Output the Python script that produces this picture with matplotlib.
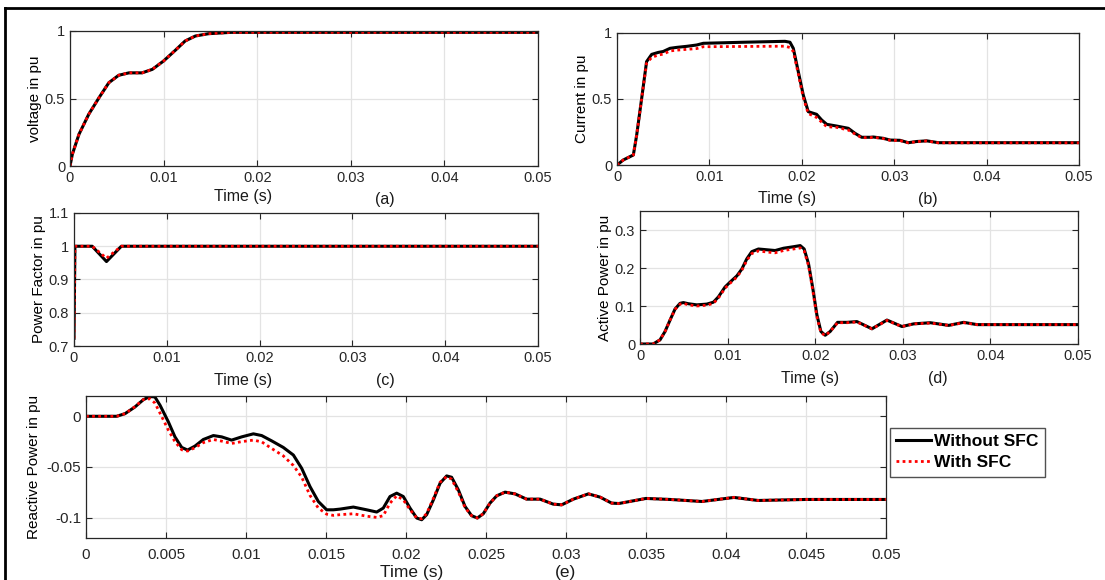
import matplotlib
matplotlib.use("Agg")
import matplotlib.pyplot as plt

plt.rcParams["font.family"] = ["Liberation Sans", "DejaVu Sans"]

# ---- data (time in s, values in pu) ----
t_volt = [0, 0.00025, 0.00096, 0.002, 0.0031, 0.00415, 0.0052, 0.0063, 0.0077,
          0.0088, 0.01, 0.01125, 0.0123, 0.0134, 0.0148, 0.0172, 0.05]
volt = [0, 0.087, 0.235, 0.383, 0.506, 0.617, 0.672, 0.69, 0.69,
        0.716, 0.778, 0.857, 0.926, 0.963, 0.98, 0.99, 0.99]

t_cur = [0, 0.00068, 0.00177, 0.00213, 0.00267, 0.0032, 0.00375, 0.00447, 0.005,
         0.00574, 0.00646, 0.00754, 0.00862, 0.00934, 0.01367, 0.01818, 0.01872,
         0.01908, 0.01962, 0.02016, 0.0207, 0.0216, 0.02215, 0.0227, 0.02378,
         0.02503, 0.02576, 0.02648, 0.0274, 0.02774, 0.02883, 0.02955, 0.03063,
         0.03153, 0.03243, 0.03352, 0.03478, 0.05]
cur_no_sfc = [0, 0.038, 0.076, 0.227, 0.505, 0.783, 0.838, 0.853, 0.86,
              0.884, 0.891, 0.899, 0.909, 0.922, 0.93, 0.937, 0.93,
              0.884, 0.707, 0.53, 0.404, 0.384, 0.341, 0.308, 0.295,
              0.278, 0.24, 0.21, 0.21, 0.212, 0.202, 0.189, 0.187,
              0.169, 0.178, 0.183, 0.169, 0.169]
cur_sfc = [0, 0.038, 0.076, 0.227, 0.505, 0.77, 0.815, 0.833, 0.84,
           0.864, 0.87, 0.876, 0.882, 0.896, 0.898, 0.9, 0.89,
           0.86, 0.69, 0.51, 0.39, 0.36, 0.325, 0.29, 0.285,
           0.265, 0.235, 0.207, 0.207, 0.21, 0.2, 0.187, 0.185,
           0.168, 0.177, 0.182, 0.168, 0.168]

t_pf = [0, 0.0001, 0.00196, 0.0035, 0.0051, 0.05]
pf_no_sfc = [0.723, 1.0, 1.0, 0.954, 1.0, 1.0]
pf_sfc = [0.723, 1.0, 1.0, 0.964, 1.0, 1.0]

t_p = [0, 0.0015, 0.00229, 0.00286, 0.00343, 0.004, 0.00457, 0.00495, 0.00552,
       0.00648, 0.00762, 0.00838, 0.00895, 0.00971, 0.01029, 0.01105, 0.01162,
       0.01219, 0.01276, 0.01352, 0.01448, 0.01543, 0.01638, 0.01752, 0.01829,
       0.01874, 0.01924, 0.01973, 0.02019, 0.02065, 0.02114, 0.02171, 0.02255,
       0.02362, 0.02476, 0.02648, 0.02819, 0.0299, 0.03124, 0.03314, 0.03524,
       0.03695, 0.03848, 0.05]
p_no_sfc = [0, 0, 0.011, 0.033, 0.063, 0.092, 0.107, 0.109, 0.106,
            0.103, 0.105, 0.11, 0.124, 0.15, 0.163, 0.179, 0.197,
            0.224, 0.243, 0.25, 0.248, 0.246, 0.252, 0.256, 0.259,
            0.25, 0.211, 0.146, 0.077, 0.033, 0.023, 0.033, 0.057,
            0.057, 0.059, 0.04, 0.063, 0.046, 0.053, 0.056, 0.049,
            0.057, 0.051, 0.051]
p_sfc = [0, 0, 0.011, 0.033, 0.063, 0.091, 0.105, 0.107, 0.103,
         0.1, 0.102, 0.107, 0.121, 0.147, 0.16, 0.176, 0.194,
         0.22, 0.238, 0.245, 0.242, 0.24, 0.246, 0.25, 0.253,
         0.245, 0.206, 0.14, 0.072, 0.03, 0.022, 0.033, 0.056,
         0.056, 0.058, 0.04, 0.062, 0.046, 0.053, 0.055, 0.049,
         0.056, 0.051, 0.051]

t_q = [0, 0.00192, 0.00244, 0.00306, 0.00358, 0.004, 0.00431, 0.00463, 0.00515,
       0.00556, 0.00598, 0.00635, 0.00681, 0.00733, 0.00796, 0.00848, 0.0091,
       0.00973, 0.01046, 0.01098, 0.0116, 0.01233, 0.01296, 0.01348, 0.014,
       0.01452, 0.01504, 0.01546, 0.01588, 0.01671, 0.01754, 0.01817, 0.01858,
       0.019, 0.01942, 0.01983, 0.02025, 0.02067, 0.02098, 0.02129, 0.02171,
       0.02213, 0.02254, 0.02285, 0.02327, 0.02369, 0.0241, 0.02446, 0.02483,
       0.02525, 0.02567, 0.02619, 0.02681, 0.02754, 0.02838, 0.0292, 0.02973,
       0.03046, 0.0314, 0.03213, 0.03285, 0.0333, 0.035, 0.0365, 0.0385,
       0.0405, 0.042, 0.045, 0.05]
q_no_sfc = [0, 0, 0.0026, 0.0092, 0.0163, 0.0196, 0.019, 0.0108, -0.0056,
            -0.0203, -0.0307, -0.0333, -0.0294, -0.0229, -0.019, -0.0203, -0.0235,
            -0.0203, -0.0173, -0.019, -0.0242, -0.0307, -0.0382, -0.0513, -0.0693,
            -0.084, -0.0922, -0.0922, -0.0915, -0.0895, -0.0922, -0.0944, -0.0905,
            -0.0791, -0.0758, -0.0791, -0.0905, -0.1003, -0.102, -0.097, -0.0824,
            -0.066, -0.0588, -0.0601, -0.0725, -0.0889, -0.098, -0.1003, -0.0961,
            -0.0856, -0.0784, -0.0748, -0.0765, -0.0817, -0.0817, -0.0866, -0.0873,
            -0.0817, -0.0765, -0.0797, -0.0856, -0.086, -0.081, -0.082, -0.084,
            -0.080, -0.083, -0.082, -0.082]
q_sfc = [0, 0, 0.0026, 0.0095, 0.0165, 0.0173, 0.013, 0.003, -0.0137,
         -0.025, -0.033, -0.0343, -0.031, -0.026, -0.0229, -0.0245, -0.0268,
         -0.025, -0.0235, -0.0252, -0.0317, -0.039, -0.0485, -0.0600, -0.0780,
         -0.0905, -0.0965, -0.0977, -0.097, -0.0961, -0.0985, -0.0997, -0.098,
         -0.0856, -0.0784, -0.0824, -0.092, -0.1003, -0.101, -0.096, -0.081,
         -0.065, -0.0595, -0.062, -0.0745, -0.09, -0.098, -0.1003, -0.096,
         -0.0856, -0.0784, -0.0748, -0.0765, -0.0817, -0.0817, -0.0866, -0.0873,
         -0.0817, -0.0765, -0.0797, -0.0856, -0.086, -0.081, -0.082, -0.084,
         -0.080, -0.083, -0.082, -0.082]

labels = ["Without SFC", "With SFC"]
narrow = ["Liberation Sans Narrow", "Liberation Sans", "DejaVu Sans"]

W, H = 1105, 580
fig = plt.figure(figsize=(W / 100, H / 100), dpi=100)


def box(l, t, r, b):
    return [l / W, 1 - b / H, (r - l) / W, (b - t) / H]


def style(ax):
    ax.grid(True, color="#e3e3e3", linewidth=0.9)
    ax.set_axisbelow(True)
    ax.tick_params(direction="in", top=True, right=True, labelsize=10.5,
                   colors="#262626", length=4)
    for s in ax.spines.values():
        s.set_color("#262626")
        s.set_linewidth(0.9)


def draw(ax, t, a, b):
    ax.plot(t, a, color="black", lw=2.2, label=labels[0])
    ax.plot(t, b, color="red", lw=2.0, ls=(0, (1, 1.2)), label=labels[1])


ticks5 = [0, 0.01, 0.02, 0.03, 0.04, 0.05]
ticks5_lab = ["0", "0.01", "0.02", "0.03", "0.04", "0.05"]

# (a) voltage
ax_a = fig.add_axes(box(70, 31, 538, 166))
draw(ax_a, t_volt, volt, volt)
ax_a.set_xlim(0, 0.05)
ax_a.set_ylim(0, 1)
ax_a.set_yticks([0, 0.5, 1])
ax_a.set_yticklabels(["0", "0.5", "1"])
ax_a.set_xticks(ticks5)
ax_a.set_xticklabels(ticks5_lab)
ax_a.set_ylabel("voltage in pu", fontsize=11, labelpad=2)
style(ax_a)

# (b) current
ax_b = fig.add_axes(box(617, 33, 1079, 165))
draw(ax_b, t_cur, cur_no_sfc, cur_sfc)
ax_b.set_xlim(0, 0.05)
ax_b.set_ylim(0, 1)
ax_b.set_yticks([0, 0.5, 1])
ax_b.set_yticklabels(["0", "0.5", "1"])
ax_b.set_xticks(ticks5)
ax_b.set_xticklabels(ticks5_lab)
ax_b.set_ylabel("Current in pu", fontsize=11, labelpad=2)
style(ax_b)

# (c) power factor
ax_c = fig.add_axes(box(74, 213, 538, 346))
draw(ax_c, t_pf, pf_no_sfc, pf_sfc)
ax_c.set_xlim(0, 0.05)
ax_c.set_ylim(0.7, 1.1)
ax_c.set_yticks([0.7, 0.8, 0.9, 1.0, 1.1])
ax_c.set_yticklabels(["0.7", "0.8", "0.9", "1", "1.1"])
ax_c.set_xticks(ticks5)
ax_c.set_xticklabels(ticks5_lab)
ax_c.set_ylabel("Power Factor in pu", fontsize=11, labelpad=2)
style(ax_c)

# (d) active power
ax_d = fig.add_axes(box(640, 211, 1078, 344))
draw(ax_d, t_p, p_no_sfc, p_sfc)
ax_d.set_xlim(0, 0.05)
ax_d.set_ylim(0, 0.35)
ax_d.set_yticks([0, 0.1, 0.2, 0.3])
ax_d.set_yticklabels(["0", "0.1", "0.2", "0.3"])
ax_d.set_xticks(ticks5)
ax_d.set_xticklabels(ticks5_lab)
ax_d.set_ylabel("Active Power in pu", fontsize=11, labelpad=2)
style(ax_d)

# (e) reactive power
ax_e = fig.add_axes(box(86, 396, 886, 538))
draw(ax_e, t_q, q_no_sfc, q_sfc)
ax_e.set_xlim(0, 0.05)
ax_e.set_ylim(-0.12, 0.02)
ax_e.set_yticks([-0.1, -0.05, 0])
ax_e.set_yticklabels(["-0.1", "-0.05", "0"])
ax_e.set_xticks([0, 0.005, 0.01, 0.015, 0.02, 0.025, 0.03, 0.035, 0.04, 0.045, 0.05])
ax_e.set_xticklabels(["0", "0.005", "0.01", "0.015", "0.02", "0.025", "0.03",
                      "0.035", "0.04", "0.045", "0.05"])
ax_e.set_ylabel("Reactive Power in pu", fontsize=11, labelpad=4)
style(ax_e)
ax_e.tick_params(axis="x", pad=7)
for lab in ax_e.get_xticklabels() + ax_e.get_yticklabels():
    lab.set_family(narrow)
    lab.set_fontsize(11)

# x labels and panel letters as placed in the reference
for x, y, s in [(243, 197, "Time (s)"), (385, 199, "(a)"),
                (787, 198, "Time (s)"), (928, 199, "(b)"),
                (243, 380, "Time (s)"), (385, 380, "(c)"),
                (810, 378, "Time (s)"), (938, 378, "(d)")]:
    fig.text(x / W, 1 - y / H, s, fontsize=11.5, ha="center", va="center",
             color="#1a1a1a")
for x, y, s in [(412, 572, "Time (s)"), (565, 572, "(e)")]:
    fig.text(x / W, 1 - y / H, s, fontsize=12.5, ha="center", va="center",
             color="#1a1a1a", family=narrow)

leg = ax_e.legend(loc="upper left", bbox_to_anchor=(890 / W, 1 - 428 / H),
                  bbox_transform=fig.transFigure, frameon=True, fancybox=False,
                  handlelength=2.0, handletextpad=0.2, borderpad=0.35,
                  labelspacing=0.35, borderaxespad=0,
                  prop={"weight": "bold", "size": 12.5, "family": narrow})
leg.get_frame().set_edgecolor("#262626")
leg.get_frame().set_linewidth(1.0)

# outer frame
fig.add_artist(plt.Line2D([5 / W, 1], [1 - 8 / H, 1 - 8 / H], color="black", lw=2))
fig.add_artist(plt.Line2D([5 / W, 5 / W], [0, 1 - 8 / H], color="black", lw=2))

fig.savefig("out.png", dpi=100)
